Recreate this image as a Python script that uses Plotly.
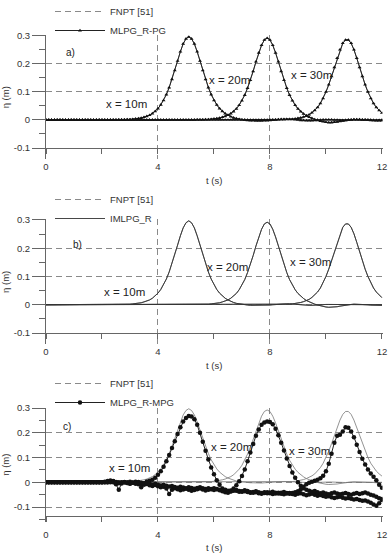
import plotly.graph_objects as go

# ---------------- data ----------------
t = [round(0.1 * i, 1) for i in range(121)]

# FNPT [51] reference signals at the three gauges (x = 10, 20, 30 m)
fnpt_x10 = [0.000]*26 + [0.001, 0.001, 0.001, 0.002, 0.002, 0.003, 0.004, 0.005, 0.007, 0.010,
            0.013, 0.017, 0.023, 0.031, 0.041, 0.054, 0.070, 0.091, 0.116, 0.145,
            0.177, 0.211, 0.244, 0.272, 0.290, 0.297, 0.290, 0.272, 0.244, 0.211,
            0.177, 0.145, 0.116, 0.091, 0.070, 0.054, 0.041, 0.031, 0.023, 0.017,
            0.012, 0.008, 0.005, 0.003, 0.001, 0.000, -0.001, -0.002, -0.002, -0.003,
            -0.003, -0.003, -0.002, -0.002, -0.001, 0.000, 0.001, 0.002, 0.003, 0.003,
            0.003, 0.003, 0.002, 0.001, 0.000, -0.001, -0.001, -0.002, -0.002, -0.002,
            -0.001, 0.000, 0.000, 0.001, 0.001, 0.001, 0.001, 0.000, 0.000, -0.001,
            -0.001, -0.001, 0.000, 0.000, 0.001, 0.001, 0.001, 0.000, 0.000, 0.000,
            0.000, -0.001, -0.001, -0.001, 0.000]
fnpt_x20 = [0.000]*54 + [0.001, 0.001, 0.001, 0.002, 0.002, 0.003, 0.004, 0.005, 0.007, 0.010,
            0.013, 0.017, 0.023, 0.030, 0.040, 0.053, 0.069, 0.089, 0.114, 0.142,
            0.174, 0.208, 0.240, 0.267, 0.286, 0.292, 0.286, 0.267, 0.240, 0.208,
            0.174, 0.142, 0.114, 0.089, 0.069, 0.053, 0.040, 0.030, 0.022, 0.015,
            0.010, 0.006, 0.002, -0.001, -0.004, -0.006, -0.008, -0.009, -0.009, -0.008,
            -0.007, -0.005, -0.003, -0.001, 0.000, 0.001, 0.002, 0.002, 0.002, 0.001,
            0.001, 0.000, -0.001, -0.001, -0.002, -0.002, -0.002]
fnpt_x30 = [0.000]*83 + [0.001, 0.001, 0.001, 0.002, 0.002, 0.003, 0.004, 0.006, 0.008, 0.011,
            0.015, 0.019, 0.026, 0.034, 0.045, 0.059, 0.077, 0.100, 0.126, 0.156,
            0.188, 0.221, 0.251, 0.274, 0.286, 0.286, 0.274, 0.251, 0.221, 0.188,
            0.156, 0.126, 0.100, 0.077, 0.059, 0.045, 0.034, 0.025]

# MLPG_R-PG (panel a) and IMLPG_R (panel b) follow FNPT closely
pg_x10 = fnpt_x10
pg_x20 = fnpt_x20
pg_x30 = fnpt_x30
im_x10 = fnpt_x10
im_x20 = fnpt_x20
im_x30 = fnpt_x30

# MLPG_R-MPG (panel c)
mpg_x10 = [0.000]*21 + [0.002, 0.005, 0.007, 0.004, -0.008, -0.030, -0.005, 0.000, -0.003,
           -0.006, -0.002, 0.002, -0.008, -0.020, -0.004, 0.003, 0.006, 0.010, 0.018,
           0.030, 0.045, 0.063, 0.085, 0.110, 0.138, 0.166, 0.195, 0.222, 0.245,
           0.260, 0.268, 0.266, 0.255, 0.232, 0.200, 0.164, 0.127, 0.092, 0.060,
           0.032, 0.008, -0.010, -0.025, -0.032, -0.036, -0.033, -0.030, -0.034, -0.038,
           -0.036, -0.032, -0.035, -0.040, -0.042, -0.040, -0.044, -0.046, -0.043, -0.040,
           -0.044, -0.047, -0.045, -0.042, -0.046, -0.048, -0.045, -0.043, -0.047, -0.050,
           -0.046, -0.044, -0.048, -0.052, -0.049, -0.046, -0.050, -0.054, -0.051, -0.055,
           -0.058, -0.056, -0.060, -0.063, -0.060, -0.058, -0.062, -0.066, -0.063, -0.067,
           -0.070, -0.068, -0.072, -0.075, -0.074, -0.078, -0.083, -0.090, -0.095, -0.085,
           -0.072]
mpg_x20 = [0.000]*23 + [0.002, 0.005, 0.001, -0.004, -0.002, 0.001, -0.003,
           -0.005, -0.002, -0.006, -0.004, -0.008, -0.010, -0.007, -0.012, -0.015, -0.011,
           -0.016, -0.020, -0.018, -0.025, -0.047, -0.030, -0.024, -0.028, -0.032, -0.029,
           -0.026, -0.030, -0.034, -0.031, -0.028, -0.025, -0.029, -0.033, -0.030, -0.027,
           -0.024, -0.028, -0.032, -0.036, -0.040, -0.042, -0.036, -0.025, -0.012, 0.004,
           0.025, 0.052, 0.085, 0.120, 0.155, 0.188, 0.213, 0.232, 0.241, 0.245,
           0.243, 0.234, 0.216, 0.190, 0.160, 0.128, 0.096, 0.066, 0.040, 0.018,
           0.000, -0.014, -0.024, -0.030, -0.034, -0.038, -0.035, -0.040, -0.044, -0.041,
           -0.045, -0.048, -0.044, -0.041, -0.045, -0.048, -0.046, -0.043, -0.047, -0.050,
           -0.046, -0.043, -0.047, -0.044, -0.041, -0.045, -0.050, -0.053, -0.058, -0.064,
           -0.068]
mpg_x30 = [0.000]*30 + [0.002, -0.001, -0.003, 0.001, -0.002, -0.005, -0.003, -0.006, -0.009, -0.006,
           -0.010, -0.013, -0.010, -0.014, -0.017, -0.015, -0.019, -0.022, -0.018, -0.021,
           -0.024, -0.020, -0.023, -0.026, -0.023, -0.020, -0.024, -0.027, -0.024, -0.028,
           -0.031, -0.027, -0.030, -0.033, -0.030, -0.034, -0.037, -0.034, -0.031, -0.035,
           -0.038, -0.036, -0.039, -0.042, -0.039, -0.036, -0.040, -0.043, -0.040, -0.044,
           -0.041, -0.038, -0.042, -0.045, -0.042, -0.039, -0.043, -0.046, -0.043, -0.040,
           -0.036, -0.028, -0.018, -0.008, -0.002, 0.002, 0.006, 0.010, 0.016, 0.026,
           0.045, 0.075, 0.115, 0.160, 0.188, 0.192, 0.205, 0.222, 0.220, 0.205,
           0.182, 0.152, 0.122, 0.095, 0.072, 0.052, 0.035, 0.022, 0.008, -0.010,
           -0.022]

panel_labels = ["a)", "b)", "c)"]
gauge_labels = ["x = 10m", "x = 20m", "x = 30m"]
x_ticks = [0, 4, 8, 12]
y_ticks = [-0.1, 0, 0.1, 0.2, 0.3]
y_ticktext = ["-0.1", "0", "0.1", "0.2", "0.3"]

# ---------------- styling ----------------
FONT = "Liberation Sans, Arial, sans-serif"
TXT = "#333333"
AX = "#666666"
GRID = "#8a8a8a"

fig = go.Figure()

# panel a
for i, s in enumerate([fnpt_x10, fnpt_x20, fnpt_x30]):
    fig.add_trace(go.Scatter(x=t, y=s, mode="lines", line=dict(color="#555555", width=0.8),
                             showlegend=False, xaxis="x", yaxis="y", hoverinfo="skip"))
fig.add_trace(go.Scatter(x=[None], y=[None], mode="lines", name="FNPT [51]",
                         line=dict(color=GRID, width=1, dash="6px,4px"),
                         legend="legend", xaxis="x", yaxis="y"))
for i, s in enumerate([pg_x10, pg_x20, pg_x30]):
    fig.add_trace(go.Scatter(x=t, y=s, mode="lines+markers", name="MLPG_R-PG",
                             line=dict(color="#222222", width=1),
                             marker=dict(symbol="triangle-up", size=3.5, color="#111111"),
                             showlegend=(i == 0), legend="legend", xaxis="x", yaxis="y"))

# panel b
for i, s in enumerate([fnpt_x10, fnpt_x20, fnpt_x30]):
    fig.add_trace(go.Scatter(x=t, y=s, mode="lines", line=dict(color="#555555", width=0.8),
                             showlegend=False, xaxis="x2", yaxis="y2", hoverinfo="skip"))
fig.add_trace(go.Scatter(x=[None], y=[None], mode="lines", name="FNPT [51]",
                         line=dict(color=GRID, width=1, dash="6px,4px"),
                         legend="legend2", xaxis="x2", yaxis="y2"))
for i, s in enumerate([im_x10, im_x20, im_x30]):
    fig.add_trace(go.Scatter(x=t, y=s, mode="lines", name="IMLPG_R",
                             line=dict(color="#333333", width=0.9),
                             showlegend=(i == 0), legend="legend2", xaxis="x2", yaxis="y2"))

# panel c
for i, s in enumerate([fnpt_x10, fnpt_x20, fnpt_x30]):
    fig.add_trace(go.Scatter(x=t, y=s, mode="lines", line=dict(color="#777777", width=0.8),
                             showlegend=False, xaxis="x3", yaxis="y3", hoverinfo="skip"))
fig.add_trace(go.Scatter(x=[None], y=[None], mode="lines", name="FNPT [51]",
                         line=dict(color=GRID, width=1, dash="6px,4px"),
                         legend="legend3", xaxis="x3", yaxis="y3"))
for i, s in enumerate([mpg_x10, mpg_x20, mpg_x30]):
    fig.add_trace(go.Scatter(x=t, y=s, mode="lines+markers", name="MLPG_R-MPG",
                             line=dict(color="#222222", width=1),
                             marker=dict(symbol="circle", size=4.5, color="#111111"),
                             showlegend=(i == 0), legend="legend3", xaxis="x3", yaxis="y3"))

# ---------------- axes ----------------
X_DOM = [46 / 388, 382.5 / 388]
panels = [
    # (y domain, x-axis position in paper, y range)
    ([1 - 159.2 / 553, 1 - 35.4 / 553], 1 - 148 / 553, [-0.14, 0.302]),
    ([1 - 344.3 / 553, 1 - 219.4 / 553], 1 - 333 / 553, [-0.14, 0.302]),
    ([1 - 521.9 / 553, 1 - 407.5 / 553], 1 - 516 / 553, [-0.16, 0.302]),
]

layout = dict(
    width=388, height=553,
    margin=dict(l=0, r=0, t=0, b=0, autoexpand=False),
    paper_bgcolor="white", plot_bgcolor="white",
    font=dict(family=FONT, size=10, color=TXT),
    annotations=[],
)

for k, (ydom, xpos, yr) in enumerate(panels):
    sfx = "" if k == 0 else str(k + 1)
    xname, yname = "xaxis" + sfx, "yaxis" + sfx
    xid, yid = "x" + sfx, "y" + sfx
    layout[xname] = dict(
        domain=X_DOM, range=[0, 12.02], anchor="free", position=xpos,
        tickvals=x_ticks, ticktext=[str(v) for v in x_ticks],
        ticks="outside", ticklen=5, tickcolor=AX, tickwidth=1,
        showline=True, linecolor=AX, linewidth=1,
        showgrid=True, gridcolor=GRID, gridwidth=1, griddash="6px,4px",
        minor=dict(tickvals=[2, 6, 10], ticks="outside", ticklen=5, tickcolor=AX, showgrid=False),
        zeroline=False, tickfont=dict(size=9.5, color=TXT),
        ticklabelstandoff=5,
        title=dict(text="t (s)", font=dict(size=9.5, color=TXT), standoff=5),
    )
    layout[yname] = dict(
        domain=ydom, range=yr, anchor=xid,
        tickvals=y_ticks, ticktext=y_ticktext,
        ticks="outside", ticklen=13, tickcolor=AX, tickwidth=1,
        showline=True, linecolor=AX, linewidth=1,
        showgrid=True, gridcolor=GRID, gridwidth=1, griddash="6px,4px",
        minor=dict(tickvals=[-0.15, -0.05, 0.05, 0.15, 0.25], ticks="outside", ticklen=6,
                   tickcolor=AX, showgrid=False),
        zeroline=False, tickfont=dict(size=9.5, color=TXT),
        title=dict(text="η (m)", font=dict(size=9.5, color=TXT), standoff=7),
    )

# legends
leg_common = dict(xanchor="left", yanchor="top", bgcolor="rgba(0,0,0,0)",
                  font=dict(size=9.5, color=TXT), itemwidth=50, tracegroupgap=0,
                  orientation="v")
layout["legend"] = dict(x=50 / 388, y=1 + 3 / 553, **leg_common)
layout["legend2"] = dict(x=50 / 388, y=1 - 185 / 553, **leg_common)
layout["legend3"] = dict(x=50 / 388, y=1 - 369 / 553, **leg_common)

fig.update_layout(**layout)

# text labels
label_pos = [
    [(0.86, 0.24), (2.89, 0.057), (6.57, 0.143), (9.50, 0.160)],
    [(1.14, 0.212), (2.82, 0.046), (6.50, 0.134), (9.46, 0.152)],
    [(0.74, 0.226), (2.97, 0.057), (6.63, 0.141), (9.43, 0.125)],
]
for k in range(3):
    sfx = "" if k == 0 else str(k + 1)
    xr, yr = "x" + sfx, "y" + sfx
    texts = [panel_labels[k]] + gauge_labels
    for j, (txt, (px, py)) in enumerate(zip(texts, label_pos[k])):
        fig.add_annotation(x=px, y=py, xref=xr, yref=yr, text=txt, showarrow=False,
                           font=dict(size=10 if j == 0 else 11.5, color="#222222", family=FONT),
                           xanchor="center", yanchor="middle")

fig.write_html("out.html")
